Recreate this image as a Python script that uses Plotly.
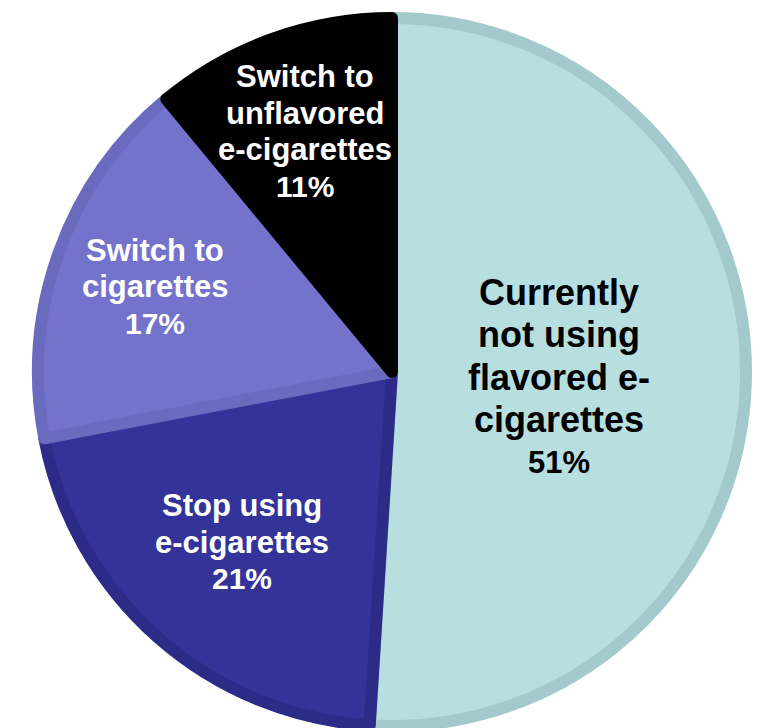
import math
import plotly.graph_objects as go

# ---- data ----
categories = [
    ["Currently", "not using", "flavored e-", "cigarettes"],
    ["Stop using", "e-cigarettes"],
    ["Switch to", "cigarettes"],
    ["Switch to", "unflavored", "e-cigarettes"],
]
values = [51, 21, 17, 11]

# ---- style ----
fill_colors = ["#b8dfe0", "#333399", "#7373cc", "#000000"]
border_colors = ["#a4c9cc", "#2c2c88", "#6a6abf", "#000000"]
text_colors = ["#000000", "#ffffff", "#ffffff", "#ffffff"]
main_sizes = [36, 31, 31, 31]
pct_sizes = [31, 30, 30, 30]
line_gaps = [42.5, 36.5, 36.5, 36.5]
label_radius = [0.465, 0.63, 0.70, 0.71]  # fraction of radius for label placement
FONT = "Liberation Sans, Arial, sans-serif"

W, H = 777, 728
CX, CY, R = 392, 372, 360
LINE_W = 12
r_dom = R - LINE_W / 2

fig = go.Figure(
    go.Pie(
        labels=[" ".join(c) for c in categories],
        values=values,
        sort=False,
        direction="clockwise",
        rotation=0,
        textinfo="none",
        hoverinfo="none",
        showlegend=False,
        marker=dict(colors=fill_colors, line=dict(color=border_colors, width=LINE_W)),
        domain=dict(
            x=[(CX - r_dom) / W, (CX + r_dom) / W],
            y=[max(0, 1 - (CY + r_dom) / H), 1 - (CY - r_dom) / H],
        ),
    )
)

total = sum(values)
cum = 0
annotations = []
for lines, v, tc, ms, ps, gap, lr in zip(
    categories, values, text_colors, main_sizes, pct_sizes, line_gaps, label_radius
):
    mid = (cum + v / 2) / total * 2 * math.pi
    cum += v
    px = CX + R * lr * math.sin(mid)
    py = CY - R * lr * math.cos(mid)
    all_lines = [(t, ms) for t in lines] + [(f"{v}%", ps)]
    n = len(all_lines)
    for i, (t, fs) in enumerate(all_lines):
        annotations.append(
            dict(
                x=px / W,
                y=1 - py / H,
                xref="paper",
                yref="paper",
                xanchor="center",
                yanchor="middle",
                yshift=-(i - (n - 1) / 2) * gap,
                showarrow=False,
                text=f"<b>{t}</b>",
                font=dict(family=FONT, size=fs, color=tc),
            )
        )

fig.update_layout(
    width=W,
    height=H,
    margin=dict(l=0, r=0, t=0, b=0),
    paper_bgcolor="white",
    plot_bgcolor="white",
    annotations=annotations,
)

fig.write_html("out.html")
